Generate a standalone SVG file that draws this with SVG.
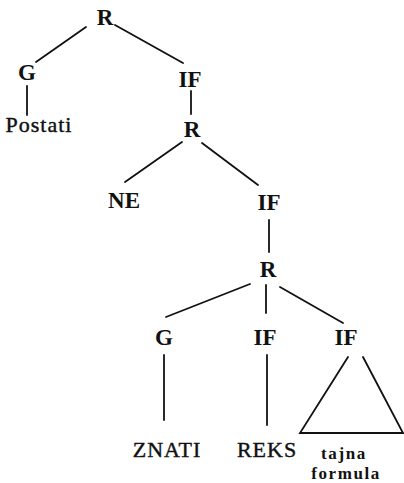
<svg xmlns="http://www.w3.org/2000/svg" width="404" height="483" viewBox="0 0 404 483">
<style>
.n{font-family:"Liberation Serif","Times New Roman",serif;font-weight:bold;font-size:23px;text-anchor:middle;fill:#111}
.l{font-family:"Liberation Serif","Times New Roman",serif;font-size:22px;text-anchor:middle;fill:#111;stroke:#111;stroke-width:0.4;letter-spacing:1px}
.s{font-family:"Liberation Serif","Times New Roman",serif;font-weight:bold;font-size:17px;text-anchor:middle;fill:#111;letter-spacing:1.6px}
.e{stroke:#111;stroke-width:1.8;fill:none;stroke-linecap:round}
</style>
<rect width="404" height="483" fill="#fff"/>
<g id="edges" class="e">
<line x1="86" y1="27" x2="36" y2="62"/>
<line x1="115" y1="25" x2="183" y2="63"/>
<line x1="27" y1="86" x2="27" y2="115"/>
<line x1="191" y1="91" x2="191" y2="114"/>
<line x1="182" y1="142" x2="125" y2="182"/>
<line x1="202" y1="143" x2="258" y2="185"/>
<line x1="269" y1="220" x2="269" y2="252"/>
<line x1="250" y1="284" x2="166" y2="317"/>
<line x1="266" y1="285" x2="266" y2="313"/>
<line x1="280" y1="287" x2="343" y2="323"/>
<line x1="164" y1="355" x2="164" y2="420"/>
<line x1="267" y1="355" x2="267" y2="425"/>
<polyline points="348,357 300,433 403,433 363,357"/>
</g>
<g id="n1"><text class="n" x="105" y="25">R</text></g>
<g id="n2"><text class="n" x="27" y="80">G</text></g>
<g id="n3"><text class="n" x="190" y="87">IF</text></g>
<g id="n4"><text class="l" x="39" y="132">Postati</text></g>
<g id="n5"><text class="n" x="192" y="137">R</text></g>
<g id="n6"><text class="n" x="124" y="208">NE</text></g>
<g id="n7"><text class="n" x="269" y="210">IF</text></g>
<g id="n8"><text class="n" x="268" y="277">R</text></g>
<g id="n9"><text class="n" x="164" y="345">G</text></g>
<g id="n10"><text class="n" x="265" y="345">IF</text></g>
<g id="n11"><text class="n" x="346" y="345">IF</text></g>
<g id="n12"><text class="l" x="167" y="457">ZNATI</text></g>
<g id="n13"><text class="l" x="267" y="457">REKS</text></g>
<g id="n14"><text class="s" x="344" y="459">tajna</text><text class="s" x="346" y="479">formula</text></g>
</svg>
